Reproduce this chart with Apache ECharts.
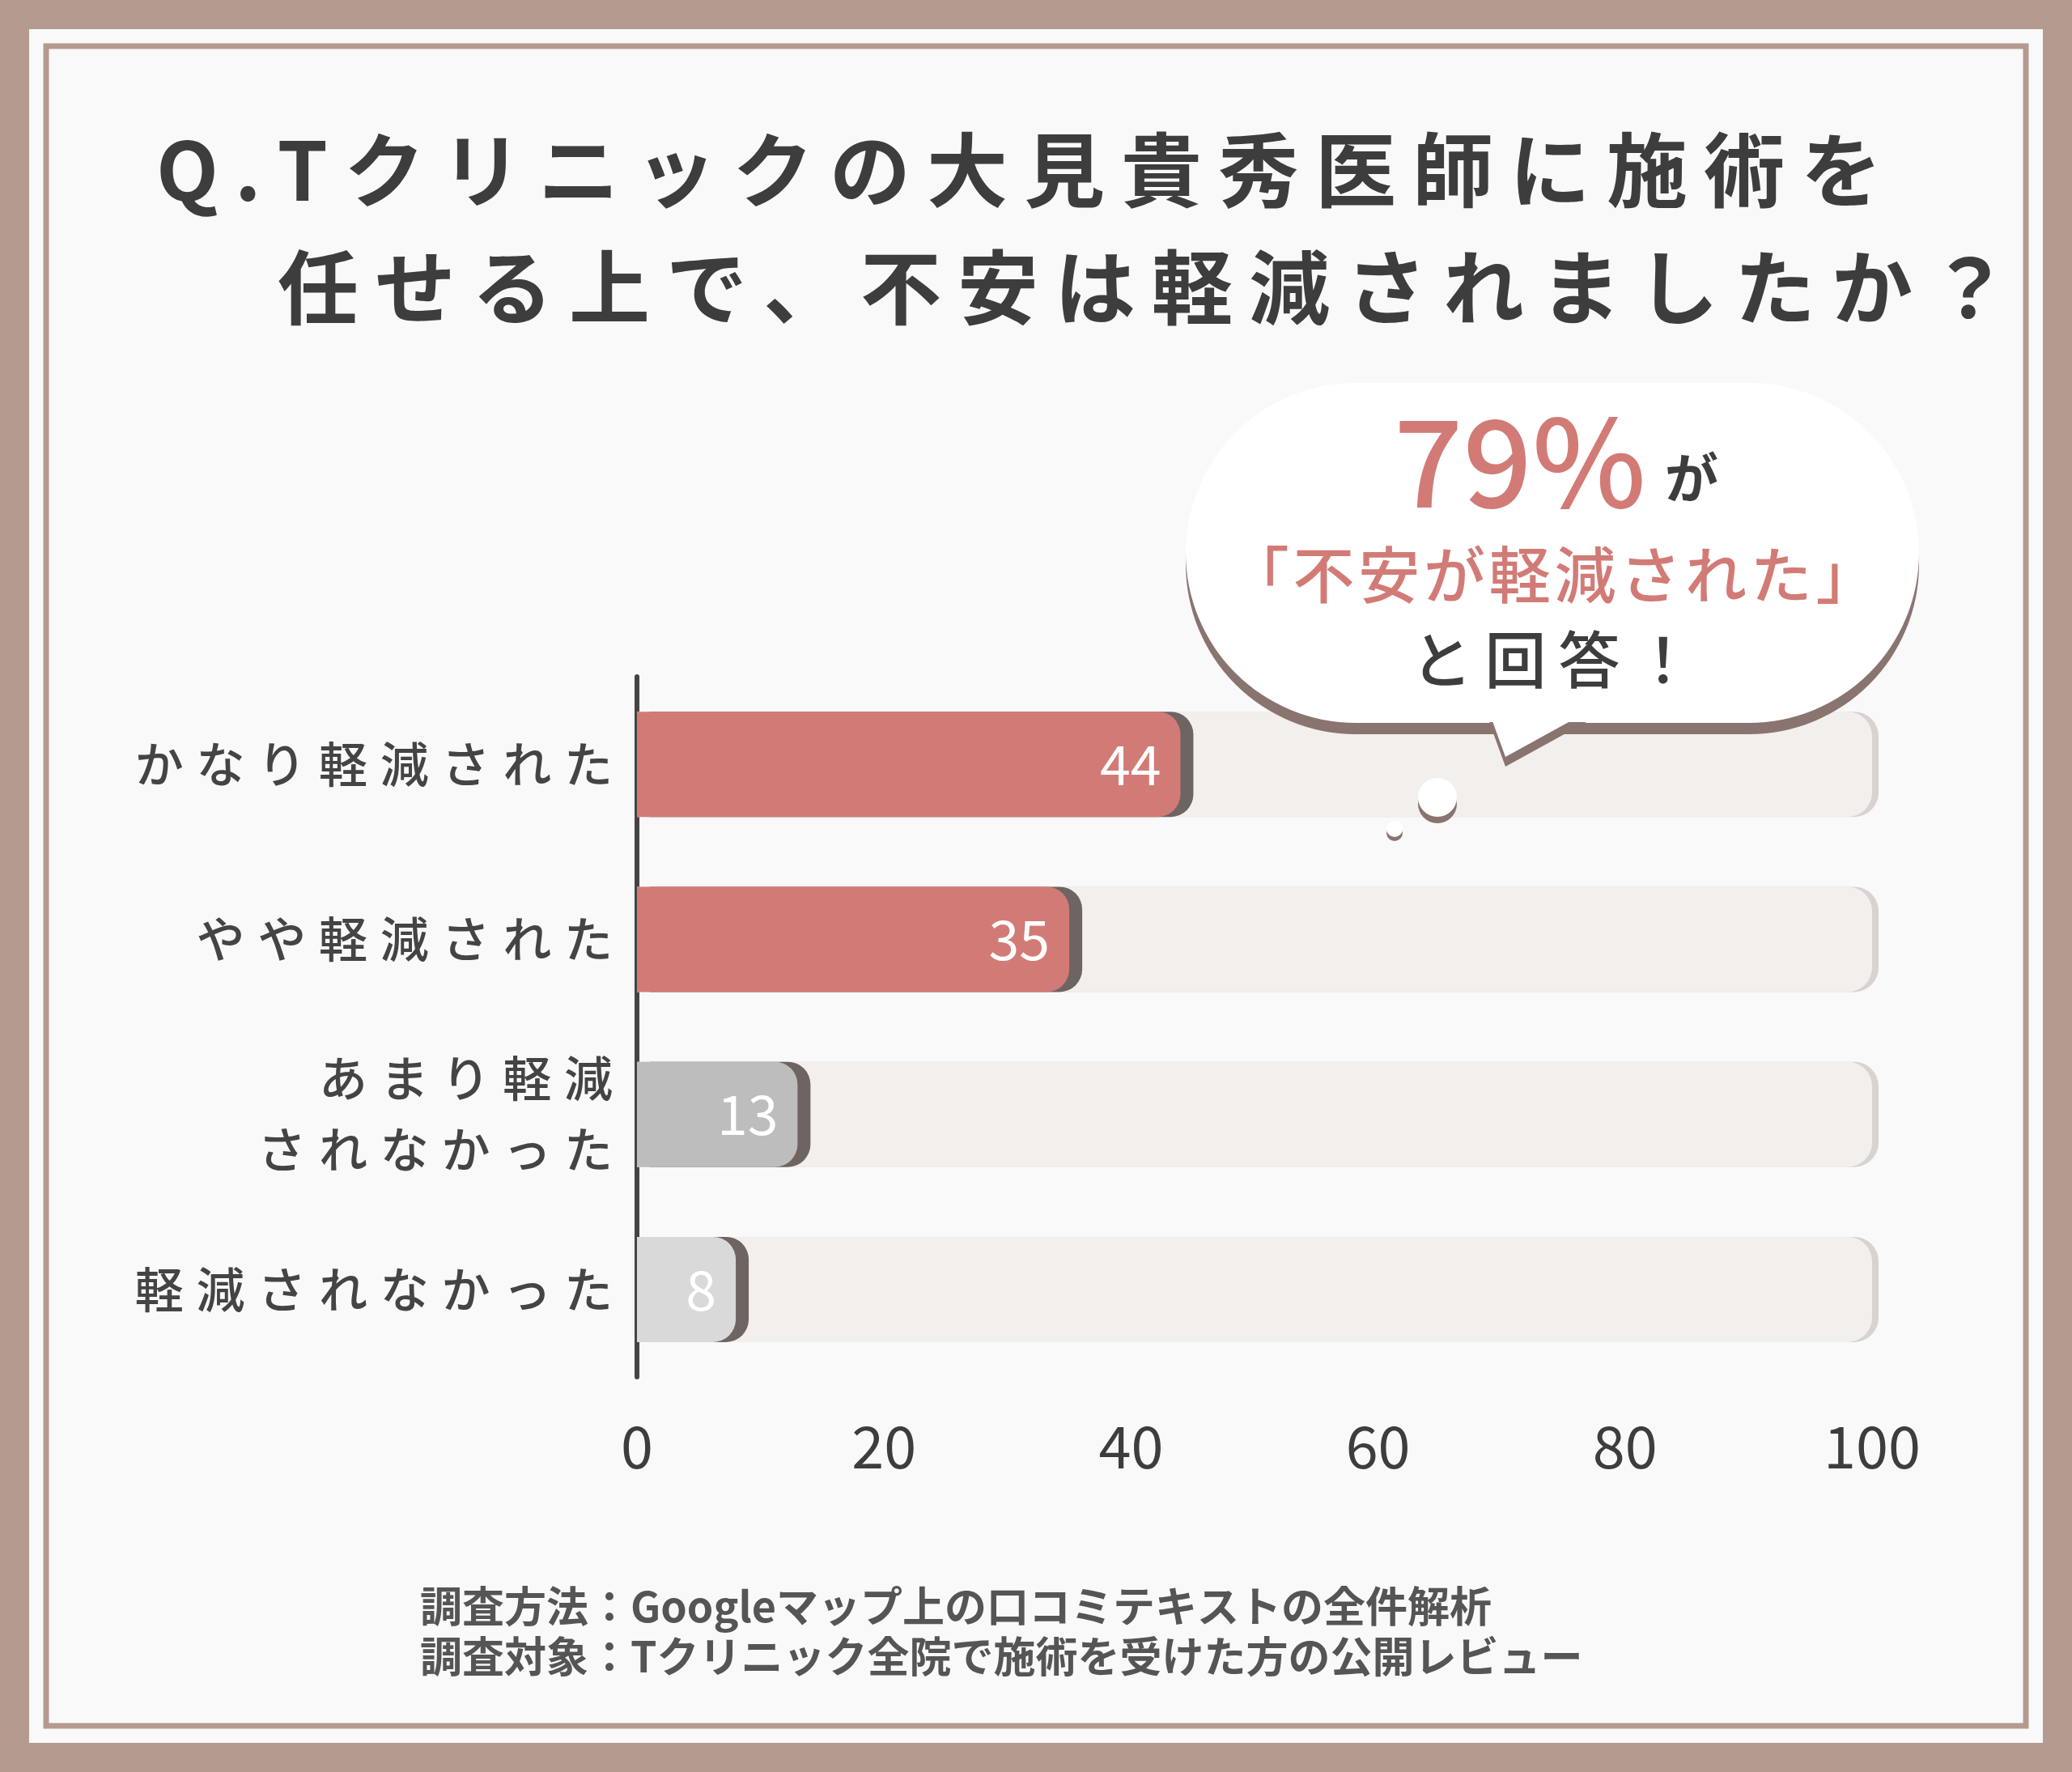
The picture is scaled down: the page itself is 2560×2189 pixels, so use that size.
<!DOCTYPE html>
<html><head><meta charset="utf-8">
<script src="https://cdn.jsdelivr.net/npm/echarts@6/dist/echarts.min.js"></script>
<style>html,body{margin:0;padding:0;background:#b59a8f}#chart{width:2560px;height:2189px}</style>
</head><body><div id="chart"></div>
<script>
const categories = ['かなり軽減された', 'やや軽減された', 'あまり軽減\nされなかった', '軽減されなかった'];
const values = [44, 35, 13, 8];
const barColors = ['#d27b76', '#d27b76', '#bdbdbd', '#d9d9d9'];
const xTicks = [0, 20, 40, 60, 80, 100];

const font = '"Noto Sans CJK JP", "Noto Sans", sans-serif';
// widen letter spacing the way the reference does
const spaced = (s, sp) => s.split('\n').map(l => Array.from(l).join(sp)).join('\n');

const chart = echarts.init(document.getElementById('chart'));

chart.setOption({
  backgroundColor: '#b59a8f',
  textStyle: { fontFamily: font },
  grid: { left: 787, right: 247, top: 836, bottom: 2189 - 1701 },
  xAxis: {
    type: 'value', min: 0, max: 100, interval: 20,
    splitLine: { show: false }, axisLine: { show: false }, axisTick: { show: false },
    axisLabel: { color: '#3d3d3d', fontSize: 72, margin: 50, fontFamily: font }
  },
  yAxis: {
    type: 'category', data: categories, inverse: true,
    axisLine: { show: true, lineStyle: { color: '#444', width: 6 } },
    axisTick: { show: false },
    axisLabel: { color: '#444', fontSize: 60, margin: 30, lineHeight: 88, fontWeight: 500, fontFamily: font,
      formatter: v => spaced(v, '\u2009\u200a') }
  },
  series: [{
    type: 'bar', data: values.map((v, i) => ({ value: v, itemStyle: { color: barColors[i] } })),
    barWidth: 130,
    showBackground: true,
    backgroundStyle: { color: '#f3efed', borderRadius: [0, 30, 30, 0], shadowColor: '#d8d2d0', shadowOffsetX: 8, shadowBlur: 0 },
    itemStyle: { borderRadius: [0, 28, 28, 0], shadowColor: '#6e6461', shadowOffsetX: 16, shadowBlur: 0 },
    label: { show: true, position: 'insideRight', distance: 24, color: '#fff', fontSize: 68, fontFamily: font }
  }],
  graphic: [
    { type: 'rect', z: -10, shape: { x: 36, y: 36, width: 2488, height: 2117 }, style: { fill: '#f9f9f9' } },
    { type: 'rect', z: -9, shape: { x: 57, y: 57, width: 2446, height: 2075 }, style: { fill: 'none', stroke: '#b59a8f', lineWidth: 7 } },
    { type: 'text', left: 193, top: 160, style: { text: spaced('Q.Tクリニックの大見貴秀医師に施術を', '\u2009'), fontSize: 100, fontWeight: 'bold', fill: '#3d3d3d', fontFamily: font } },
    { type: 'text', left: 343, top: 305, style: { text: spaced('任せる上で、不安は軽減されましたか？', '\u2009'), fontSize: 100, fontWeight: 'bold', fill: '#3d3d3d', fontFamily: font } },
    // bubble
    { type: 'rect', z: 20, shape: { x: 1465, y: 473, width: 906, height: 420, r: 210 },
      style: { fill: '#ffffff', shadowColor: '#8a7470', shadowOffsetY: 14, shadowBlur: 0 } },
    { type: 'polygon', z: 21, shape: { points: [[1840, 880], [1860, 935], [1960, 880]] }, style: { fill: '#fff', shadowColor: '#8a7470', shadowOffsetY: 12 } },
    { type: 'circle', z: 20, shape: { cx: 1776, cy: 985, r: 24 }, style: { fill: '#fff', shadowColor: '#8a7470', shadowOffsetY: 8 } },
    { type: 'circle', z: 20, shape: { cx: 1723, cy: 1024, r: 10 }, style: { fill: '#fff', shadowColor: '#8a7470', shadowOffsetY: 5 } },
    { type: 'text', z: 30, x: 1878, y: 570, style: { text: '79%', fontSize: 150, fontWeight: 500, fill: '#d27b76', align: 'center', verticalAlign: 'middle', fontFamily: font } },
    { type: 'text', z: 30, x: 2090, y: 590, style: { text: 'が', fontSize: 66, fontWeight: 'bold', fill: '#3d3d3d', align: 'center', verticalAlign: 'middle', fontFamily: font } },
    { type: 'text', z: 30, x: 1918, y: 710, style: { text: spaced('「不安が軽減された」', '\u200a'), fontSize: 76, fontWeight: 500, fill: '#d27b76', align: 'center', verticalAlign: 'middle', fontFamily: font } },
    { type: 'text', z: 30, x: 1918, y: 815, style: { text: spaced('と回答！', '\u2009'), fontSize: 76, fontWeight: 500, fill: '#3d3d3d', align: 'center', verticalAlign: 'middle', fontFamily: font } },
    // footer
    { type: 'text', left: 519, top: 1958, style: { text: '調査方法：Googleマップ上の口コミテキストの全件解析', fontSize: 52, fontWeight: 'bold', fill: '#555', fontFamily: font } },
    { type: 'text', left: 519, top: 2020, style: { text: '調査対象：Tクリニック全院で施術を受けた方の公開レビュー', fontSize: 52, fontWeight: 'bold', fill: '#555', fontFamily: font } }
  ]
});
</script></body></html>
